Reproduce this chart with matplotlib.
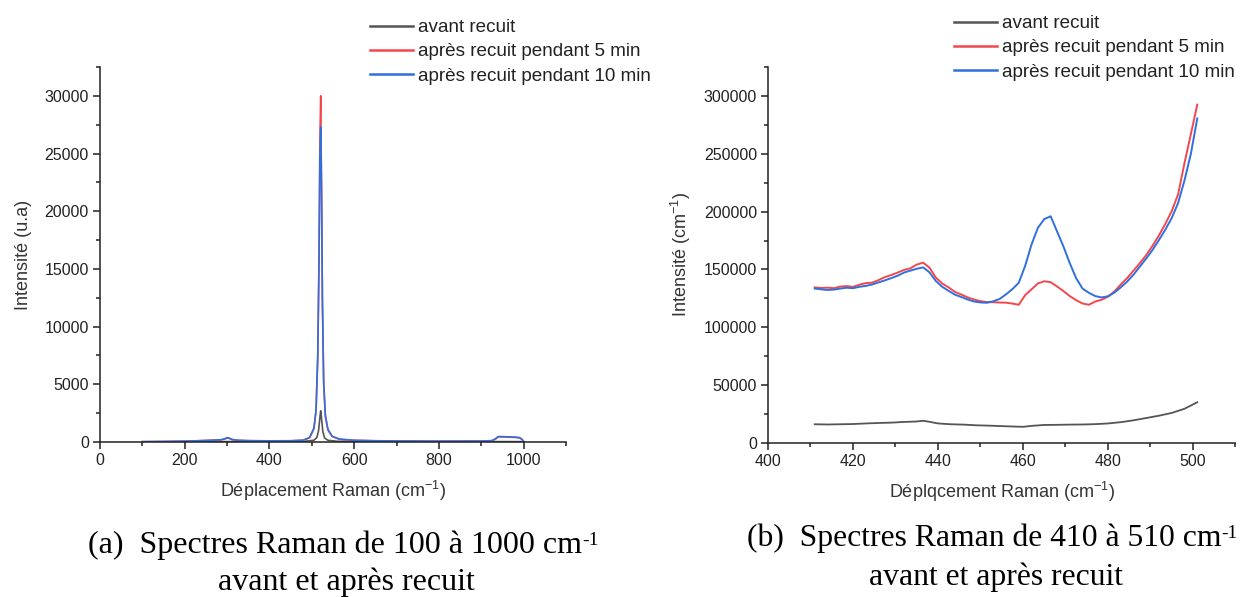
import matplotlib.pyplot as plt
from matplotlib.ticker import MultipleLocator

plt.rcParams["font.family"] = ["Liberation Sans", "DejaVu Sans"]

W, H = 1243, 597

# -------------------------------------------------------------------------------------
# Spectra 100 - 1000 cm-1
# -------------------------------------------------------------------------------------
full_x_before = [100, 200, 300, 400, 480, 505, 512, 516, 519, 521, 523, 526, 530, 538, 560, 700, 900, 1000]
full_y_before = [20, 25, 35, 40, 50, 150, 400, 1000, 2100, 2700, 2000, 900, 350, 150, 60, 40, 35, 30]

full_x_after = [100, 150, 200, 230, 260, 285, 295, 300, 305, 312, 325, 350, 400, 450, 480, 495,
                505, 510, 514, 517, 519, 521, 523, 525, 528, 532, 538, 548, 565, 600, 650, 700,
                800, 900, 925, 933, 940, 950, 965, 980, 990, 996, 1000]
full_y_5min = [25, 40, 60, 100, 140, 180, 260, 350, 310, 200, 140, 110, 90, 100, 150, 380,
               1150, 2700, 7200, 15500, 26000, 30000, 21500, 12000, 5000, 2200, 1050, 480, 240, 140, 100, 80,
               60, 70, 110, 240, 440, 440, 420, 400, 360, 230, 35]
full_y_10min = [30, 45, 70, 110, 150, 190, 280, 380, 340, 220, 150, 120, 100, 110, 160, 400,
                1200, 2800, 7500, 16000, 24500, 27300, 22000, 12500, 5200, 2300, 1100, 500, 250, 150, 110, 90,
                70, 80, 120, 260, 470, 470, 440, 420, 380, 250, 40]

# -------------------------------------------------------------------------------------
# Spectra 410 - 510 cm-1
# -------------------------------------------------------------------------------------
zoom_x_before = [411, 414, 417, 420, 423, 426, 429, 432, 435, 436.5, 438, 440, 443, 446, 449, 452, 455,
                 458, 460, 462, 465, 468, 471, 474, 477, 480, 483, 486, 489, 492, 495, 498, 501]
zoom_y_before = [16200, 16000, 16200, 16400, 16900, 17300, 17600, 18200, 18600, 19200, 18300, 16900,
                 16200, 15900, 15300, 15000, 14600, 14200, 14000, 14800, 15600, 15700, 15900, 16000,
                 16300, 16900, 18000, 19600, 21600, 23600, 26000, 29600, 35200]

zoom_x = [411.0, 412.5, 414.0, 415.5, 417.0, 418.5, 420.0, 421.5, 423.0, 424.5, 426.0, 427.5, 429.0,
          430.5, 432.0, 433.5, 435.0, 436.5, 438.0, 439.5, 441.0, 442.5, 444.0, 445.5, 447.0, 448.5,
          450.0, 451.5, 453.0, 454.5, 456.0, 457.5, 459.0, 460.5, 462.0, 463.5, 465.0, 466.5, 468.0,
          469.5, 471.0, 472.5, 474.0, 475.5, 477.0, 478.5, 480.0, 481.5, 483.0, 484.5, 486.0, 487.5,
          489.0, 490.5, 492.0, 493.5, 495.0, 496.5, 498.0, 499.5, 501.0]
zoom_y_5min = [134500, 134000, 134300, 133800, 135200, 135600, 135000, 136800, 138200, 138600, 140800,
               143400, 145200, 147300, 149600, 151000, 154200, 155900, 151500, 143000, 137800, 134500,
               130600, 128300, 125800, 124000, 122600, 121800, 121700, 121400, 121300, 120500, 119500,
               127800, 132800, 137900, 139800, 139000, 135300, 131400, 127000, 123500, 120600, 119500,
               122300, 123800, 126500, 131000, 137000, 142500, 149000, 155500, 162500, 170500, 179500,
               189500, 200500, 215000, 242000, 267000, 292500]
zoom_y_10min = [133500, 132800, 132300, 132600, 133500, 134200, 133800, 135000, 135800, 137000, 138800,
                140600, 142500, 144600, 147300, 149000, 150600, 151800, 147500, 140000, 135000, 131500,
                128200, 126200, 124000, 122300, 121500, 121200, 122500, 124500, 128500, 133000, 138500,
                153000, 171500, 186000, 193500, 196000, 183000, 170000, 155500, 142500, 133500, 129800,
                127000, 125800, 126800, 130000, 134500, 139500, 145500, 152500, 159500, 167000, 175500,
                184500, 194500, 207500, 227000, 250000, 280500]

labels = ["avant recuit", "après recuit pendant 5 min", "après recuit pendant 10 min"]
colors = ["#555555", "#f4474b", "#2f6fe0"]

fig = plt.figure(figsize=(W / 100, H / 100), dpi=100)
ax1 = fig.add_axes([100 / W, 1 - 442 / H, 466 / W, 375 / H])
ax2 = fig.add_axes([768 / W, 1 - 443 / H, 467.5 / W, 376 / H])

ax1.plot(full_x_before, full_y_before, color=colors[0], lw=1.2, label=labels[0])
ax1.plot(full_x_after, full_y_5min, color=colors[1], lw=1.2, label=labels[1])
ax1.plot(full_x_after, full_y_10min, color=colors[2], lw=1.2, label=labels[2])

ax2.plot(zoom_x_before, zoom_y_before, color=colors[0], lw=1.3, label=labels[0])
ax2.plot(zoom_x, zoom_y_5min, color=colors[1], lw=1.4, label=labels[1])
ax2.plot(zoom_x, zoom_y_10min, color=colors[2], lw=1.4, label=labels[2])

ax1.set_xlim(0, 1100)
ax1.set_ylim(0, 32500)
ax1.xaxis.set_major_locator(MultipleLocator(200))
ax1.xaxis.set_minor_locator(MultipleLocator(100))
ax1.yaxis.set_major_locator(MultipleLocator(5000))
ax1.yaxis.set_minor_locator(MultipleLocator(2500))

ax2.set_xlim(400, 510)
ax2.set_ylim(0, 325000)
ax2.xaxis.set_major_locator(MultipleLocator(20))
ax2.xaxis.set_minor_locator(MultipleLocator(10))
ax2.yaxis.set_major_locator(MultipleLocator(50000))
ax2.yaxis.set_minor_locator(MultipleLocator(25000))

sup = r"$\mathregular{^{-1}}$"
ax1.set_xlabel("Déplacement Raman (cm" + sup + ")", fontsize=13, color="#333333", labelpad=8)
ax1.set_ylabel("Intensité (u.a)", fontsize=13, color="#333333", labelpad=9)
ax2.set_xlabel("Déplqcement Raman (cm" + sup + ")", fontsize=13, color="#333333", labelpad=8)
ax2.set_ylabel("Intensité (cm" + sup + ")", fontsize=13, color="#333333", labelpad=8)

for ax in (ax1, ax2):
    ax.spines["top"].set_visible(False)
    ax.spines["right"].set_visible(False)
    for side in ("left", "bottom"):
        ax.spines[side].set_linewidth(1.1)
        ax.spines[side].set_color("#222222")
    ax.tick_params(which="major", direction="out", length=5, width=1.1, color="#222222",
                   labelsize=11.5, labelcolor="#222222", pad=3)
    ax.tick_params(which="minor", direction="out", length=3, width=1.1, color="#222222")

# Legends above each panel
leg_kw = dict(loc="upper left", frameon=False, fontsize=13.6, handlelength=2.25,
              handletextpad=0.3, labelspacing=0.37, borderpad=0, borderaxespad=0,
              bbox_transform=fig.transFigure)
leg1 = ax1.legend(bbox_to_anchor=(370 / W, 1 - 19 / H), **leg_kw)
leg2 = ax2.legend(bbox_to_anchor=(954 / W, 1 - 15 / H), **leg_kw)
for leg in (leg1, leg2):
    for line in leg.get_lines():
        line.set_linewidth(1.8)
    for t in leg.get_texts():
        t.set_color("#222222")

# Captions, with the "-1" exponent set as a small raised text
serif = ["Liberation Serif", "DejaVu Serif"]


def caption(x, y, first, second, x2, y2, size=23):
    t = fig.text(x / W, 1 - y / H, first, ha="left", va="center", family=serif, fontsize=size)
    fig.text(x2 / W, 1 - y2 / H, second, ha="center", va="center", family=serif, fontsize=size)
    plt.annotate("-1", xy=(1.0, 0.93), xycoords=t, ha="left", va="top",
                 family=serif, fontsize=size * 0.61)


caption(88, 545, "(a)  Spectres Raman de 100 à 1000 cm", "avant et après recuit", 346, 582)
caption(747, 538, "(b)  Spectres Raman de 410 à 510 cm", "avant et après recuit", 996, 577, size=22.8)

plt.savefig("out.png", dpi=100)
